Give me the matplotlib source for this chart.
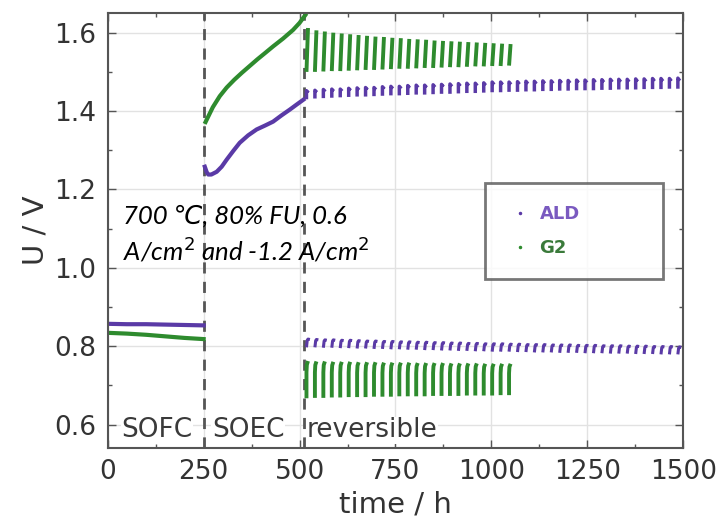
import matplotlib
matplotlib.use("Agg")
import matplotlib.pyplot as plt
from matplotlib.lines import Line2D
from matplotlib.ticker import MultipleLocator

# SOFC phase (0 - 250 h)
sofc_t = [0, 50, 100, 150, 200, 250]
ald_sofc = [0.857, 0.856, 0.856, 0.855, 0.854, 0.853]
g2_sofc = [0.834, 0.832, 0.829, 0.825, 0.821, 0.818]

# SOEC phase (250 - 510 h)
ald_soec_t = [253, 258, 262, 270, 284, 297, 310, 327, 344, 366, 388, 410, 431, 453, 475, 493, 510]
ald_soec = [1.258, 1.244, 1.238, 1.238, 1.245, 1.258, 1.276, 1.298, 1.319, 1.338, 1.353, 1.363,
            1.373, 1.389, 1.404, 1.417, 1.429]
g2_soec_t = [255, 274, 292, 310, 330, 350, 370, 390, 410, 431, 457, 483, 500, 515]
g2_soec = [1.372, 1.410, 1.438, 1.460, 1.480, 1.498, 1.515, 1.532, 1.548, 1.565, 1.585, 1.607,
           1.625, 1.645]

# reversible phase: one entry per cycle (start time, min / max voltage)
ald_cyc_t = [518, 540, 562, 584, 606, 628, 650, 672, 694,
             716, 738, 760, 782, 804, 826, 848, 870, 892,
             914, 936, 958, 980, 1002, 1024, 1046, 1068, 1090,
             1112, 1134, 1156, 1178, 1200, 1222, 1244, 1266, 1288,
             1310, 1332, 1354, 1376, 1398, 1420, 1442, 1464, 1486]
ald_ec_hi = [1.452, 1.453, 1.455, 1.456, 1.456, 1.458, 1.459, 1.460, 1.460,
             1.462, 1.463, 1.463, 1.465, 1.466, 1.466, 1.467, 1.468, 1.469,
             1.470, 1.471, 1.471, 1.472, 1.474, 1.474, 1.474, 1.475, 1.476,
             1.476, 1.477, 1.477, 1.478, 1.478, 1.479, 1.479, 1.480, 1.480,
             1.481, 1.481, 1.481, 1.482, 1.482, 1.483, 1.483, 1.483, 1.484]
ald_ec_lo = [1.430, 1.432, 1.433, 1.434, 1.435, 1.436, 1.437, 1.437, 1.438,
             1.439, 1.440, 1.440, 1.441, 1.442, 1.442, 1.443, 1.444, 1.444,
             1.445, 1.446, 1.446, 1.447, 1.448, 1.448, 1.449, 1.449, 1.450,
             1.450, 1.451, 1.451, 1.452, 1.452, 1.453, 1.453, 1.453, 1.454,
             1.454, 1.455, 1.455, 1.455, 1.456, 1.456, 1.456, 1.457, 1.457]
ald_fc_hi = [0.818, 0.817, 0.816, 0.816, 0.815, 0.815, 0.814, 0.813, 0.813,
             0.812, 0.812, 0.811, 0.811, 0.810, 0.810, 0.809, 0.809, 0.808,
             0.808, 0.807, 0.807, 0.806, 0.806, 0.806, 0.805, 0.805, 0.804,
             0.804, 0.804, 0.803, 0.803, 0.803, 0.802, 0.802, 0.802, 0.801,
             0.801, 0.801, 0.800, 0.800, 0.800, 0.799, 0.799, 0.799, 0.798]
ald_fc_lo = [0.797, 0.797, 0.796, 0.796, 0.795, 0.795, 0.794, 0.794, 0.793,
             0.793, 0.792, 0.792, 0.791, 0.791, 0.790, 0.790, 0.789, 0.789,
             0.788, 0.788, 0.787, 0.787, 0.786, 0.786, 0.786, 0.785, 0.785,
             0.784, 0.784, 0.784, 0.783, 0.783, 0.783, 0.782, 0.782, 0.782,
             0.781, 0.781, 0.781, 0.780, 0.780, 0.780, 0.779, 0.779, 0.779]

g2_cyc_t = [518, 540, 562, 584, 606, 628, 650, 672, 694, 716, 738, 760, 782,
            804, 826, 848, 870, 892, 914, 936, 958, 980, 1002, 1024, 1046]
g2_ec_hi = [1.612, 1.606, 1.603, 1.600, 1.598, 1.596, 1.594, 1.592, 1.590, 1.589, 1.587, 1.586, 1.584,
            1.583, 1.582, 1.580, 1.579, 1.578, 1.577, 1.576, 1.575, 1.574, 1.573, 1.572, 1.571]
g2_ec_lo = [1.500, 1.500, 1.501, 1.502, 1.502, 1.503, 1.504, 1.505, 1.505, 1.506, 1.507, 1.508, 1.508,
            1.509, 1.510, 1.510, 1.511, 1.512, 1.512, 1.513, 1.514, 1.514, 1.515, 1.515, 1.516]
g2_fc_hi = [0.762, 0.761, 0.761, 0.760, 0.760, 0.760, 0.759, 0.759, 0.759, 0.758, 0.758, 0.758, 0.758,
            0.757, 0.757, 0.757, 0.757, 0.756, 0.756, 0.756, 0.756, 0.755, 0.755, 0.755, 0.755]
g2_fc_lo = [0.667, 0.668, 0.668, 0.669, 0.669, 0.670, 0.670, 0.670, 0.671, 0.671, 0.671, 0.672, 0.672,
            0.672, 0.672, 0.673, 0.673, 0.673, 0.673, 0.674, 0.674, 0.674, 0.674, 0.675, 0.675]

phase_bounds = [250, 511]
phase_names = ["SOFC", "SOEC", "reversible"]
phase_text_t = [36, 272, 518]

PURPLE = "#5a3aa6"
GREEN = "#2e8b2e"

# shape of one cycle: (time offset in h, fraction between min and max)
shape_ald_ec = ([0, 0, 5], [0, 1, 0.75])
shape_ald_fc = ([0, 2, 4, 9], [0, 0.85, 1, 0.95])
shape_g2_ec = ([0, 4], [0, 1])
shape_g2_fc = ([4, 1, 0, 0], [1, 0.9, 0.7, 0])


def draw_cycles(ax, starts, lo, hi, shape, color, lw):
    dx, fr = shape
    for t, a, b in zip(starts, lo, hi):
        ax.plot([t + d for d in dx], [a + f * (b - a) for f in fr],
                color=color, lw=lw, solid_capstyle="butt")


fig = plt.figure(figsize=(7.23, 5.24), dpi=100)
ax = fig.add_axes([0.149, 0.145, 0.796, 0.830])

ax.grid(True, color="#e2e2e2", lw=1)
ax.set_axisbelow(True)

ax.plot(sofc_t, ald_sofc, color=PURPLE, lw=3)
ax.plot(sofc_t, g2_sofc, color=GREEN, lw=3)
ax.plot(ald_soec_t, ald_soec, color=PURPLE, lw=3)
ax.plot(g2_soec_t, g2_soec, color=GREEN, lw=3)

draw_cycles(ax, ald_cyc_t, ald_ec_lo, ald_ec_hi, shape_ald_ec, PURPLE, 2.5)
draw_cycles(ax, ald_cyc_t, ald_fc_lo, ald_fc_hi, shape_ald_fc, PURPLE, 2.2)
draw_cycles(ax, g2_cyc_t, g2_ec_lo, g2_ec_hi, shape_g2_ec, GREEN, 2.8)
draw_cycles(ax, g2_cyc_t, g2_fc_lo, g2_fc_hi, shape_g2_fc, GREEN, 2.8)

for b in phase_bounds:
    ax.axvline(b, color="#555555", lw=2, ls=(0, (4, 3)), zorder=1)

for name, t in zip(phase_names, phase_text_t):
    ax.text(t, 0.567, name, fontsize=19, color="#3a3a3a", va="baseline",
            bbox=dict(facecolor="white", edgecolor="none", pad=0.5))

ax.text(39, 1.085, "700 \u2103, 80% FU, 0.6\nA/cm$^2$ and -1.2 A/cm$^2$",
        fontsize=18.5, style="italic", family=["Lato", "DejaVu Sans"],
        linespacing=1.3, va="center", ha="left", color="black")

ax.set_xlim(0, 1500)
ax.set_ylim(0.54, 1.65)
ax.set_xticks([0, 250, 500, 750, 1000, 1250, 1500])
ax.set_yticks([0.6, 0.8, 1.0, 1.2, 1.4, 1.6])
ax.xaxis.set_minor_locator(MultipleLocator(125))
ax.yaxis.set_minor_locator(MultipleLocator(0.1))
ax.tick_params(which="both", direction="in", top=True, right=True,
               colors="#555555", labelcolor="#333333")
ax.tick_params(which="major", length=6, width=1, labelsize=19, pad=8)
ax.tick_params(which="minor", length=3, width=1)
for s in ax.spines.values():
    s.set_color("#555555")
    s.set_linewidth(1.5)

ax.set_xlabel("time / h", fontsize=21, color="#333333", labelpad=4)
ax.set_ylabel("U / V", fontsize=21, color="#333333", labelpad=4)

handles = [Line2D([], [], ls="none", marker=".", ms=3, color=PURPLE),
           Line2D([], [], ls="none", marker=".", ms=3, color=GREEN)]
leg = ax.legend(handles, ["ALD", "G2"], loc="upper left",
                bbox_to_anchor=(0.656, 0.402, 0.309, 0.207), mode="expand",
                borderaxespad=0, borderpad=1.2, labelspacing=0.9,
                handlelength=1.5, handletextpad=0.3, fancybox=False,
                prop={"size": 13, "weight": "bold"})
leg.get_frame().set_edgecolor("#555555")
leg.get_frame().set_linewidth(2)
leg.get_texts()[0].set_color("#7a5ac0")
leg.get_texts()[1].set_color("#3a7a3a")

fig.savefig("out.png", dpi=100)
